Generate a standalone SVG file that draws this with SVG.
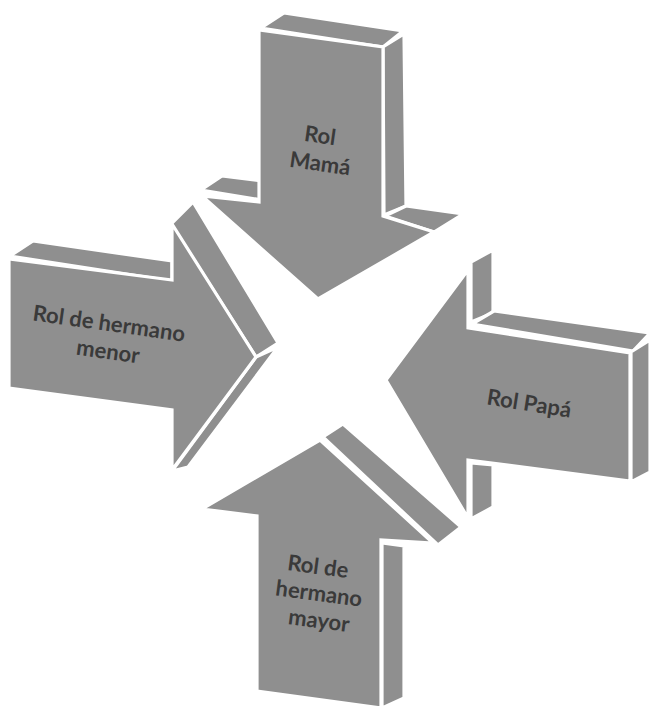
<svg xmlns="http://www.w3.org/2000/svg" width="649" height="706" viewBox="0 0 649 706">
<style>
.face{fill:#8f8f8f;stroke:#ffffff;stroke-width:3.2;stroke-linejoin:miter}
.lbl{font-family:Lato,"Liberation Sans",sans-serif;font-weight:bold;font-size:22px;fill:#3a3a3a;text-anchor:middle}
</style>
<rect width="649" height="706" fill="#ffffff"/>
<g id="arrow-mama">
<polygon class="face" points="261,28 284,13 403,31 383,47"/>
<polygon class="face" points="383,47 404,34 406,206 384,215"/>
<polygon class="face" points="201,190 222,176 262,181 262,200"/>
<polygon class="face" points="385,216 406,206 463,214 434,232"/>
<polygon class="face" points="259,30 383,47 383,216 434,232 318,299 202,196 259,202"/>
<text class="lbl" transform="rotate(8 319 143)" x="319" y="143">Rol</text>
<text class="lbl" transform="rotate(8 319 171)" x="319" y="171">Mamá</text>
</g>
<g id="arrow-hermano-menor">
<polygon class="face" points="10,256 33,241 172,261 172,281"/>
<polygon class="face" points="171,224 193,202 278,343 256,357"/>
<polygon class="face" points="256,357 278,347 188,467 172,471"/>
<polygon class="face" points="9,259 172,280 172,224 256,357 172,470 172,410 9,388"/>
<text class="lbl" transform="rotate(8 108 331)" x="108" y="331">Rol de hermano</text>
<text class="lbl" transform="rotate(8 107 359)" x="107" y="359">menor</text>
</g>
<g id="arrow-papa">
<polygon class="face" points="471,262 493,250 493,313 471,322"/>
<polygon class="face" points="471,463 493,465 493,507 471,519"/>
<polygon class="face" points="472,324 494,311 650,333 633,351"/>
<polygon class="face" points="631,352 650,340 650,472 631,482"/>
<polygon class="face" points="468,270 468,328 630,353 630,481 468,460 468,518 386,380"/>
<text class="lbl" transform="rotate(9 528 411)" x="528" y="411">Rol Papá</text>
</g>
<g id="arrow-hermano-mayor">
<polygon class="face" points="323,437 343,424 461,527 438,545"/>
<polygon class="face" points="382,543 404,546 404,698 382,708"/>
<polygon class="face" points="202,509 320,440 433,543 381,540 381,708 257,691 257,516"/>
<text class="lbl" transform="rotate(7.5 317 574)" x="317" y="574">Rol de</text>
<text class="lbl" transform="rotate(7.5 318 601)" x="318" y="601">hermano</text>
<text class="lbl" transform="rotate(7.5 318 628)" x="318" y="628">mayor</text>
</g>
<g id="connectors"/>
</svg>
